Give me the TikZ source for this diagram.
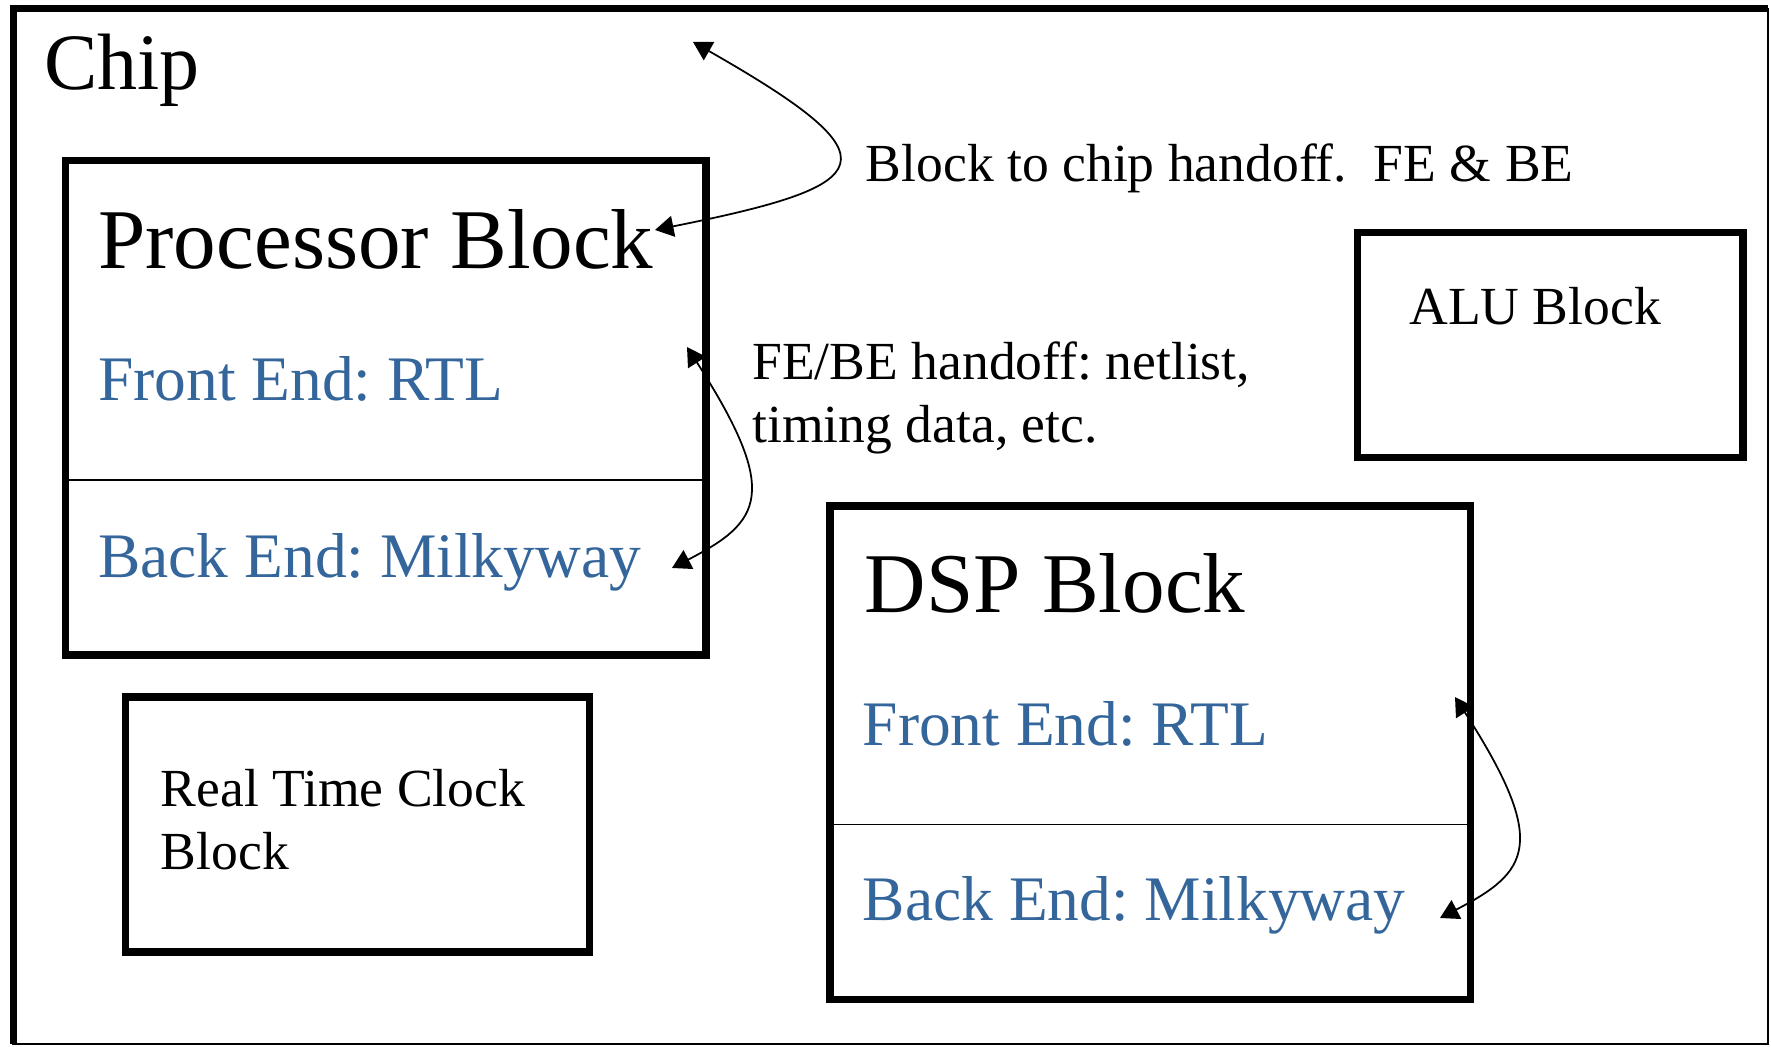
\documentclass[tikz,border=0pt]{standalone}
\usepackage{fontspec}
\setmainfont{Liberation Serif}
\definecolor{feblue}{RGB}{52,102,155}
\usetikzlibrary{arrows.meta,positioning}

\begin{document}
\frenchspacing
\begin{tikzpicture}[
    blockbox/.style={draw,line width=0.145cm,inner sep=0pt},
    bigtitle/.style={anchor=base west,inner sep=0pt,font=\fontsize{48.4pt}{58pt}\selectfont},
    stage/.style={anchor=base west,inner sep=0pt,text=feblue,font=\fontsize{36.1pt}{43pt}\selectfont},
    note/.style={anchor=base west,inner sep=0pt,align=left,font=\fontsize{30.5pt}{36.3pt}\selectfont},
    handoff/.style={{Triangle[length=0.37cm,width=0.42cm]}-{Triangle[length=0.37cm,width=0.42cm]},line width=1pt}]
  \useasboundingbox (0,0) rectangle (35.42,20.94);

  % chip outline
  \draw[line width=1.2pt] (0.27,0.06) rectangle (35.36,20.76);
  \draw[line width=0.14cm] (0.27,0.06) -- (0.27,20.76) -- (35.36,20.76);
  \node[anchor=base west,inner sep=0pt,font=\fontsize{45.5pt}{55pt}\selectfont]
        (chip) at (0.88,19.14) {Chip};

  % blocks
  \node[blockbox,minimum width=12.81cm,minimum height=9.89cm] (proc) at (7.715,12.785) {};
  \node[blockbox,minimum width=12.81cm,minimum height=9.87cm] (dsp) at (23.005,5.885) {};
  \node[blockbox,minimum width=9.28cm,minimum height=5.1cm] (rtc) at (7.15,4.45) {};
  \node[blockbox,minimum width=7.71cm,minimum height=4.5cm] (alu) at (31.005,14.04) {};
  \draw[line width=0.75pt] (proc.west |- 0,11.34) -- (proc.east |- 0,11.34);
  \draw[line width=0.75pt] (dsp.west |- 0,4.45) -- (dsp.east |- 0,4.45);

  % block texts
  \node[bigtitle] (proctitle) at (1.96,15.56) {Processor Block};
  \node[stage] (procfe) at (1.96,12.92) {Front End: RTL};
  \node[stage] (procbe) at (1.96,9.38) {Back End: Milkyway};
  \node[bigtitle] (dsptitle) at (17.29,8.68) {DSP Block};
  \node[stage] (dspfe) at (17.25,6.03) {Front End: RTL};
  \node[stage] (dspbe) at (17.25,2.53) {Back End: Milkyway};
  % two-line notes sit on the baseline of their last line
  \node[note] (rtctext) at (3.21,3.54) {Real Time Clock\\Block};
  \node[note] (alutext) at (28.18,14.44) {ALU Block};

  % handoff notes
  \node[note] (chipnote) at (17.31,17.3) {Block to chip handoff.\ \ FE \& BE};
  \node[note] (febenote) at (15.04,12.08) {FE/BE handoff: netlist,\\timing data, etc.};

  % arrow ends
  \coordinate (chiptop) at (13.86,20.1);
  \coordinate (proctop) at (13.1,16.34);
  \coordinate (procfein) at (13.74,14.0);
  \coordinate (procbein) at (13.44,9.58);
  \coordinate (dspfein) at (29.1,7.0);
  \coordinate (dspbein) at (28.8,2.58);

  \draw[handoff] (chiptop) .. controls +(4.14,-2.36) and +(4.5,0.9) .. (proctop);
  \draw[handoff] (procfein) .. controls +(1.89,-2.94) and +(1.78,0.92) .. (procbein);
  \draw[handoff] (dspfein) .. controls +(1.89,-2.94) and +(1.78,0.92) .. (dspbein);
\end{tikzpicture}
\end{document}
